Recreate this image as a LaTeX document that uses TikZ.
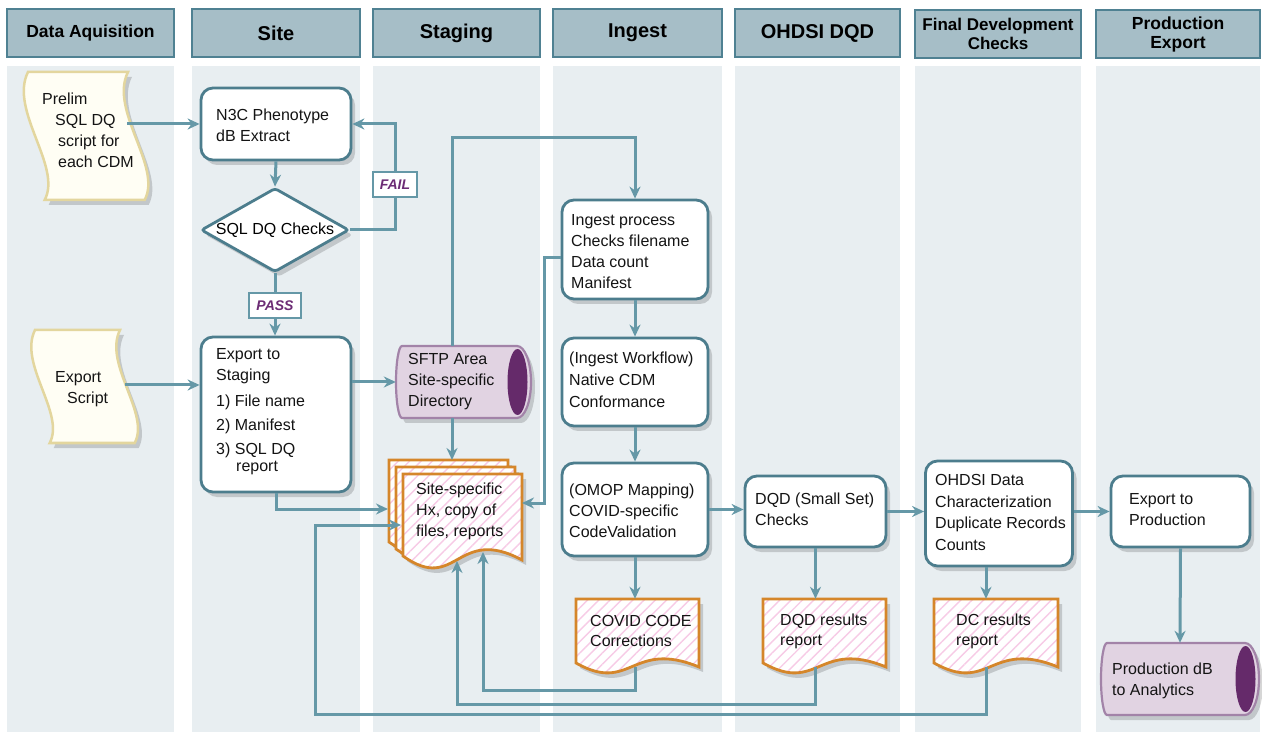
\documentclass[tikz,border=0pt]{standalone}
\usepackage{fontspec}
\setmainfont{Liberation Sans}
\usetikzlibrary{arrows.meta,shapes.geometric,shadows,patterns.meta,calc}
\definecolor{lanebg}{HTML}{E8EEF1}
\definecolor{hdrfill}{HTML}{A6BEC7}
\definecolor{hdrline}{HTML}{4F8192}
\definecolor{boxline}{HTML}{4C7D8D}
\definecolor{conncol}{HTML}{6598A7}
\definecolor{tapeline}{HTML}{E3D69E}
\definecolor{tapefill}{HTML}{FFFEF4}
\definecolor{docline}{HTML}{D5862A}
\definecolor{hatchcol}{HTML}{F7CBE6}
\definecolor{cylfill}{HTML}{E1D3E2}
\definecolor{cylline}{HTML}{A283A8}
\definecolor{cyldark}{HTML}{652A6A}
\definecolor{lbltxt}{HTML}{6C2C75}
\newcommand\myBody{\fontsize{16}{21}\selectfont}
% tape: style, L, T, W, H
\newcommand\mytape[5]{%
  \path[#1] (#2,#3) -- ({#2+#4},#3)
    .. controls ({#2+#4-0.15*#5},{#3+0.3*#5}) and ({#2+#4+0.27*#5},{#3+0.74*#5}) .. ({#2+#4+0.13*#5},{#3+#5})
    -- ({#2+0.13*#5},{#3+#5})
    .. controls ({#2+0.27*#5},{#3+0.74*#5}) and ({#2-0.15*#5},{#3+0.3*#5}) .. (#2,#3) -- cycle;}
% document: style, L, T, w, h
\newcommand\mydoc[5]{%
  \path[#1] (#2,#3) -- ({#2+#4},#3) -- ({#2+#4},{#3+#5})
    .. controls ({#2+0.45*#4},{#3+0.59*#5}) and ({#2+0.45*#4},{#3+1.4*#5}) .. (#2,{#3+#5-4}) -- cycle;}
% cylinder: L, T, B, Rc, rx
\newcommand\mycyl[5]{%
  \pgfmathsetmacro\cylmid{(#2+#3)/2}%
  \pgfmathsetmacro\cylry{(#3-#2)/2}%
  \pgfmathsetmacro\cylirx{#5-4}%
  \pgfmathsetmacro\cyliry{(#3-#2)/2-3}%
  \path[cylst] ({#1+6},#2) -- (#4,#2)
    .. controls ({#4+0.5523*#5},#2) and ({#4+#5},{\cylmid-0.5523*\cylry}) .. ({#4+#5},\cylmid)
    .. controls ({#4+#5},{\cylmid+0.5523*\cylry}) and ({#4+0.5523*#5},#3) .. (#4,#3)
    -- ({#1+6},#3)
    .. controls ({#1+2.7},#3) and (#1,{\cylmid+0.5523*\cylry}) .. (#1,\cylmid)
    .. controls (#1,{\cylmid-0.5523*\cylry}) and ({#1+2.7},#2) .. ({#1+6},#2) -- cycle;
  \fill[cyldark] ({#4+0.5},\cylmid) ellipse [x radius=\cylirx pt, y radius=\cyliry pt];}

\begin{document}
\begin{tikzpicture}[x=1pt,y=-1pt,
  lane/.style={fill=lanebg},
  hdr/.style={draw=hdrline, fill=hdrfill, line width=2.2pt, inner sep=0pt, align=center, minimum height=48, font=\bfseries\fontsize{20}{22}\selectfont},
  shadowed/.style={drop shadow={shadow xshift=4pt, shadow yshift=-5pt, opacity=0.16, fill=black}},
  box/.style={draw=boxline, fill=white, line width=2.8pt, rounded corners=12pt, inner sep=0pt, shadowed},
  txt/.style={anchor=west, align=left, inner sep=0pt, font=\myBody, text=black!92},
  ph/.style={inner sep=0pt, draw=none},
  tapest/.style={draw=tapeline, fill=tapefill, line width=2.5pt, shadowed},
  docst/.style={shadowed, preaction={fill=white}, draw=docline, line width=2.8pt, pattern={Lines[angle=45,distance=8pt,line width=1.4pt]}, pattern color=hatchcol},
  cylst/.style={draw=cylline, fill=cylfill, line width=2.2pt, shadowed},
  conn/.style={draw=conncol, line width=3pt, -{Stealth[length=12pt,width=11pt]}},
  wire/.style={draw=conncol, line width=3pt},
  lbl/.style={draw=conncol, fill=white, line width=2.2pt, font=\bfseries\itshape\fontsize{14}{16}\selectfont, text=lbltxt, inner sep=0pt, minimum width=44, minimum height=25}
]
\useasboundingbox (0,0) rectangle (1262,735);
\fill[white] (0,0) rectangle (1262,735);

% lanes
\foreach \a/\b in {7/174,192/360,373/540,553/722,735/900,915/1081,1096/1260}
  \fill[lanebg] (\a,66) rectangle (\b,732);

% headers
\node[hdr, minimum width=167, font=\bfseries\fontsize{17.5}{20}\selectfont] (h1) at (90.5,33) {\raisebox{-2pt}{Data Aquisition}};
\node[hdr, minimum width=168] (h2) at (276,33) {\raisebox{-2pt}{Site}};
\node[hdr, minimum width=167] (h3) at (456.5,33) {\raisebox{-2pt}{Staging}};
\node[hdr, minimum width=169] (h4) at (637.5,33) {\raisebox{-2pt}{Ingest}};
\node[hdr, minimum width=165] (h5) at (817.5,33) {\raisebox{-2pt}{OHDSI DQD}};
\node[hdr, minimum width=166, font=\bfseries\fontsize{17}{19}\selectfont] (h6) at (998,34) {Final Development\\Checks};
\node[hdr, minimum width=164, font=\bfseries\fontsize{17.5}{19}\selectfont] (h7) at (1178,34) {Production\\Export};

% Data acquisition lane
\node[ph, minimum width=100, minimum height=128] (prelim) at (77,136) {};
\mytape{tapest}{28}{72}{100}{128}
\node[txt] (prelimt) at (42,130.5) {Prelim\\\hspace*{13pt}SQL DQ\\\hspace*{16pt}script for\\\hspace*{16pt}each CDM};
\node[ph, minimum width=90, minimum height=113] (script) at (80,385) {};
\mytape{tapest}{35}{330}{85}{113}
\node[txt] (scriptt) at (55,389) {Export\\\hspace*{12pt}Script};

% Site lane
\node[box, minimum width=150, minimum height=72] (n3c) at (276,124) {};
\node[txt] (n3ct) at (216,125.5) {N3C Phenotype\\dB Extract};
\node[diamond, draw=boxline, fill=white, line width=2.8pt, minimum width=148, minimum height=84, inner sep=0pt, rounded corners=3pt, shadowed] (dq) at (275,230) {};
\node[font=\myBody, inner sep=0pt] (dqt) at (275,230) {SQL DQ Checks};
\node[box, minimum width=150, minimum height=155] (exportstg) at (276,414.5) {};
\node[txt] (exportstgt) at (216,412) {Export to\\Staging\\[5pt]1) File name\\[3pt]2) Manifest\\[3pt]3) SQL DQ\\[-4pt]\hspace*{20pt}report};
\node[lbl] (fail) at (395,184.5) {FAIL};
\node[lbl, minimum width=52] (pass) at (275,305.5) {PASS};

% Staging lane
\node[ph, minimum width=112, minimum height=72] (sftp) at (452,382) {};
\mycyl{396}{346}{418}{517}{14}
\node[txt] (sftpt) at (408,381.5) {SFTP Area\\Site-specific\\Directory};
\mydoc{docst}{389}{460}{119}{86}
\mydoc{docst}{396}{467}{119}{86}
\mydoc{docst}{403}{474}{119}{86}
\node[ph, minimum width=119, minimum height=86] (stack) at (462.5,517) {};
\node[txt] (stackt) at (416,511) {Site-specific\\Hx, copy of\\files, reports};
\coordinate (stkA) at (388,509);
\coordinate (stkB) at (522,503);
\coordinate (stkC) at (483,552);
\coordinate (stkD) at (457,561);
\coordinate (stkE) at (401,525);
\coordinate (stkF) at (452,460);

% Ingest lane
\node[box, minimum width=146, minimum height=99] (ingestp) at (635,249.5) {};
\node[txt] (ingestpt) at (571,252) {Ingest process\\Checks filename\\Data count\\Manifest};
\node[box, minimum width=146, minimum height=88] (workflow) at (635,382) {};
\node[txt, font=\fontsize{16}{22}\selectfont] (workflowt) at (569,380) {(Ingest Workflow)\\Native CDM\\Conformance};
\node[box, minimum width=146, minimum height=93] (omop) at (635,509.5) {};
\node[txt] (omopt) at (569,511) {(OMOP Mapping)\\COVID-specific\\CodeValidation};
\node[ph, minimum width=123, minimum height=68] (covid) at (637.5,633) {};
\mydoc{docst}{576}{599}{123}{68}
\node[txt, font=\fontsize{16}{20}\selectfont] (covidt) at (590,631) {COVID CODE\\Corrections};

% OHDSI DQD lane
\node[box, minimum width=141, minimum height=71] (dqd) at (815.5,511.5) {};
\node[txt] (dqdt) at (755,509.5) {DQD (Small Set)\\Checks};
\node[ph, minimum width=123, minimum height=68] (dqdrep) at (824.5,633) {};
\mydoc{docst}{763}{599}{123}{68}
\node[txt, font=\fontsize{16}{20}\selectfont] (dqdrept) at (780,631) {DQD results\\report};

% Final development lane
\node[box, minimum width=147, minimum height=105] (ohdsi) at (999,513.5) {};
\node[txt, font=\fontsize{16}{21.5}\selectfont] (ohdsit) at (935,512.5) {OHDSI Data\\Characterization\\Duplicate Records\\Counts};
\node[ph, minimum width=124, minimum height=68] (dcrep) at (996,633) {};
\mydoc{docst}{934}{599}{124}{68}
\node[txt, font=\fontsize{16}{20}\selectfont] (dcrept) at (956,631) {DC results\\report};

% Production lane
\node[box, minimum width=139, minimum height=71] (exportprod) at (1180.5,511.5) {};
\node[txt] (exportprodt) at (1129,509.5) {Export to\\Production};
\node[ph, minimum width=158, minimum height=72] (prod) at (1180,679) {};
\mycyl{1101}{643}{715}{1245}{14}
\node[txt] (prodt) at (1112,680.5) {Production dB\\to Analytics};

% connectors
\draw[conn] (prelim.east |- n3c.west) -- (n3c.west);
\draw[conn] (n3c.south) -- (dq.north);
\draw[wire] (dq.east) -| (fail.south);
\draw[conn] (fail.north) |- (n3c.east);
\draw[wire] (dq.south) -- (pass.north);
\draw[conn] (pass.south) -- (pass.south |- exportstg.north);
\draw[conn] (script.east) -- (script.east -| exportstg.west);
\draw[conn] (sftp.west -| exportstg.east) -- (sftp.west);
\draw[conn] (sftp.north) |- ($(ingestp.north)+(0,-61)$) -- (ingestp.north);
\draw[conn] (sftp.south) -- (stkF);
\draw[conn] (exportstg.south) |- (stkA);
\draw[conn] ($(ingestp.west)+(0,8)$) -- ++(-16,0) |- (stkB);
\draw[conn] (ingestp.south) -- (workflow.north);
\draw[conn] (workflow.south) -- (omop.north);
\draw[conn] (omop.east) -- (omop.east -| dqd.west);
\draw[conn] (omop.south) -- (omop.south |- covid.north);
\draw[conn] (dqd.east) -- (dqd.east -| ohdsi.west);
\draw[conn] (dqd.south) -- (dqd.south |- dqdrep.north);
\draw[conn] (ohdsi.east |- exportprod.west) -- (exportprod.west);
\draw[conn] ($(ohdsi.south)+(-13,0)$) -- ($(ohdsi.south |- dcrep.north)+(-13,0)$);
\draw[conn] (exportprod.south) -- (prod.north);
\draw[conn] (omop.south |- covid.south) -- ++(0,23) -| (stkC);
\draw[conn] (dqd.south |- dqdrep.south) -- ++(0,37) -| (stkD);
\draw[conn] ($(ohdsi.south |- dcrep.south)+(-13,0)$) |- ($(stkE)+(-86,189)$) |- (stkE);
\end{tikzpicture}
\end{document}
